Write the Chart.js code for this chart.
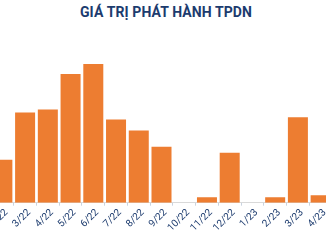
<!DOCTYPE html>
<html>
<head>
<meta charset="utf-8">
<script src="https://cdn.jsdelivr.net/npm/chart.js@4/dist/chart.umd.min.js"></script>
<style>
  html, body { margin: 0; padding: 0; background: #fff; }
  #wrap { position: relative; width: 326px; height: 245px; overflow: hidden; }
  #title {
    position: absolute; left: 0; top: 4px; width: 332px; text-align: center;
    font: bold 14px Roboto, sans-serif; color: #1c3b6e; letter-spacing: 0.1px;
  }
  #box { position: absolute; left: -9px; top: 30px; width: 341px; height: 205px; }
</style>
</head>
<body>
<div id="wrap">
  <div id="title">GIÁ TRỊ PHÁT HÀNH TPDN</div>
  <div id="box"><canvas id="chart"></canvas></div>
</div>
<script>
const months = ['2/22', '3/22', '4/22', '5/22', '6/22', '7/22', '8/22', '9/22', '10/22', '11/22', '12/22', '1/23', '2/23', '3/23', '4/23'];
const issued = [14.2, 29.8, 30.8, 42.5, 45.8, 27.5, 23.8, 18.5, 0, 1.8, 16.5, 0, 1.8, 28.2, 2.5];

const ctx = document.getElementById('chart').getContext('2d');

new Chart(ctx, {
    type: 'bar',
    data: {
        labels: months,
        datasets: [{
            data: issued,
            backgroundColor: '#ed7d31',
            borderWidth: 0,
            barPercentage: 0.88,
            categoryPercentage: 1
        }]
    },
    options: {
        responsive: true,
        maintainAspectRatio: false,
        animation: false,
        layout: { padding: 0 },
        plugins: {
            legend: { display: false },
            tooltip: { enabled: false }
        },
        scales: {
            x: {
                offset: true,
                grid: {
                    offset: true,
                    drawOnChartArea: false,
                    drawTicks: true,
                    tickLength: 3,
                    color: '#c9d3e0'
                },
                border: { display: true, color: '#d9d9d9' },
                ticks: {
                    autoSkip: false,
                    minRotation: 45,
                    maxRotation: 45,
                    padding: 1,
                    labelOffset: 4,
                    color: '#1c3b6e',
                    font: { family: 'Roboto', size: 10 }
                },
                afterFit: (s) => { s.paddingLeft = 0; s.paddingRight = 0; }
            },
            y: {
                display: false,
                min: 0,
                max: 57
            }
        }
    }
});
</script>
</body>
</html>
